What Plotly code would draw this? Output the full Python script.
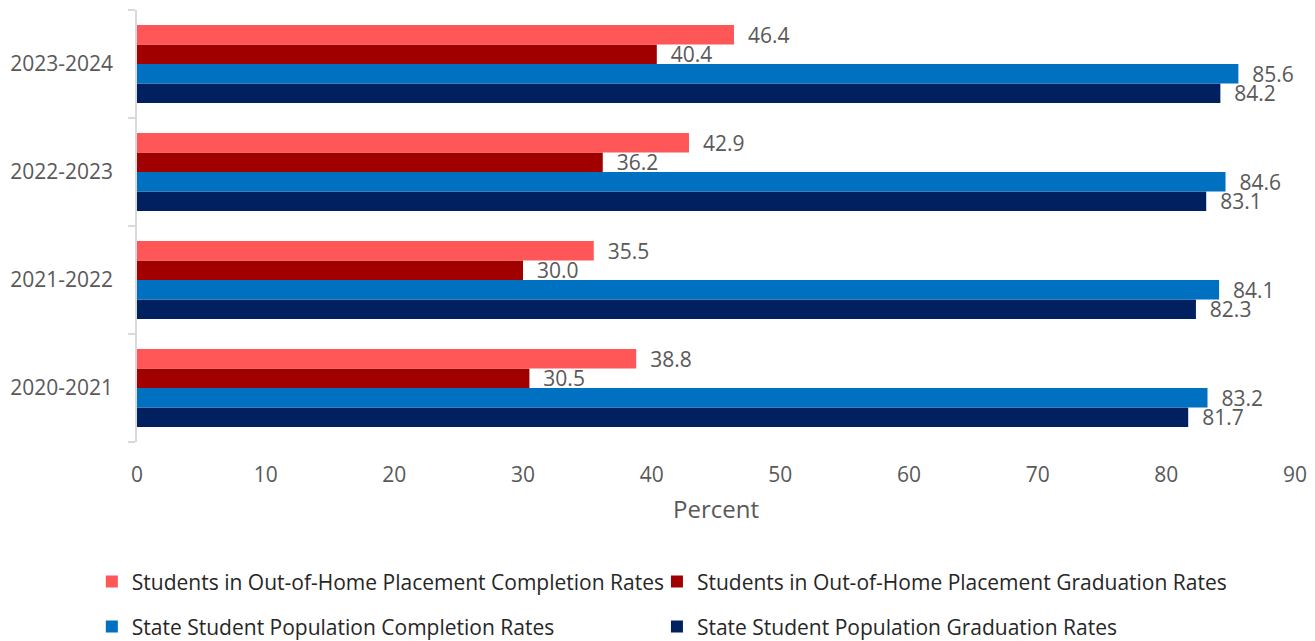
import plotly.graph_objects as go

years = ["2020-2021", "2021-2022", "2022-2023", "2023-2024"]
ooh_completion = [38.8, 35.5, 42.9, 46.4]
ooh_graduation = [30.5, 30.0, 36.2, 40.4]
state_completion = [83.2, 84.1, 84.6, 85.6]
state_graduation = [81.7, 82.3, 83.1, 84.2]

names = [
    "Students in Out-of-Home Placement Completion Rates",
    "Students in Out-of-Home Placement Graduation Rates",
    "State Student Population Completion Rates",
    "State Student Population Graduation Rates",
]
values = [ooh_completion, ooh_graduation, state_completion, state_graduation]
colors = ["#FF5757", "#A00000", "#0070C0", "#002060"]
legend_ids = ["legend", "legend2", "legend3", "legend4"]

FONT = "Open Sans"
GRAY = "#595959"

fig = go.Figure()
for i in reversed(range(4)):
    fig.add_trace(go.Bar(
        y=years, x=values[i], orientation="h", name=names[i],
        marker=dict(color=colors[i], line=dict(width=0)),
        texttemplate="  %{x:.1f}", textposition="outside",
        constraintext="none", cliponaxis=False,
        textfont=dict(color=GRAY, size=21, family=FONT),
        legend=legend_ids[i], showlegend=True,
    ))

legend_common = dict(
    orientation="h", xanchor="left", yanchor="middle", visible=True,
    font=dict(size=21, color="#262626", family=FONT),
    bgcolor="rgba(0,0,0,0)",
)

fig.update_layout(
    width=1307, height=633, showlegend=True,
    margin=dict(l=129, r=20, t=2, b=199, autoexpand=False),
    paper_bgcolor="white", plot_bgcolor="white",
    barmode="group", bargap=0.28, bargroupgap=0,
    font=dict(family=FONT, color=GRAY),
    xaxis=dict(
        range=[0, 90], dtick=10, showgrid=False, zeroline=False, showline=False,
        ticks="", tickfont=dict(size=21, color=GRAY), ticklabelstandoff=18,
        title=dict(text="Percent", font=dict(size=24, color=GRAY), standoff=14),
    ),
    yaxis=dict(
        showline=True, linecolor="#D9D9D9", linewidth=1.5,
        ticks="outside", tickson="boundaries", ticklen=7, tickcolor="#D9D9D9", tickwidth=1.5,
        tickfont=dict(size=21, color=GRAY), ticklabelstandoff=18, showgrid=False,
    ),
    legend=dict(x=-0.039, y=-0.324, **legend_common),
    legend2=dict(x=0.449, y=-0.324, **legend_common),
    legend3=dict(x=-0.039, y=-0.428, **legend_common),
    legend4=dict(x=0.449, y=-0.428, **legend_common),
)

fig.write_html("out.html")
